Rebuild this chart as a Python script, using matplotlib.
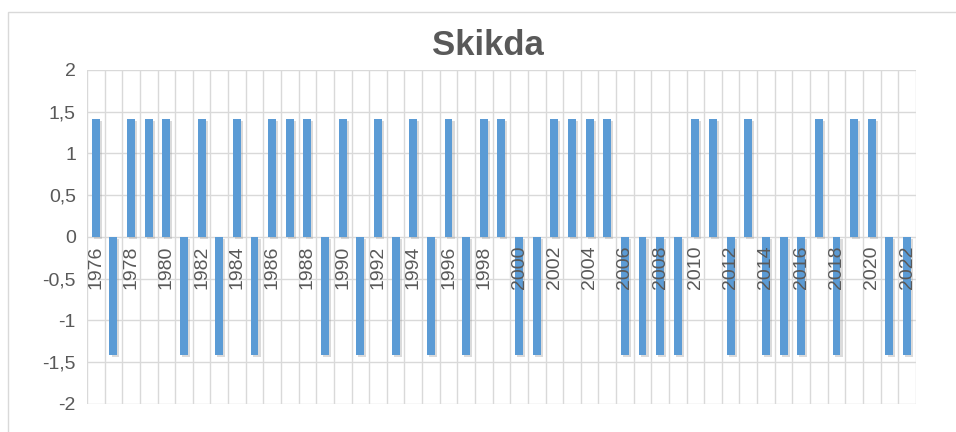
import matplotlib.pyplot as plt
import matplotlib.patheffects as pe
from matplotlib.patches import Rectangle

# Data
years = list(range(1976, 2023))
positive_years = [1976, 1978, 1979, 1980, 1982, 1984, 1986, 1987, 1988, 1990,
                  1992, 1994, 1996, 1998, 1999, 2002, 2003, 2004, 2005, 2010,
                  2011, 2013, 2017, 2019, 2020]
values = [1.41 if y in positive_years else -1.41 for y in years]
y_ticks = [-2, -1.5, -1, -0.5, 0, 0.5, 1, 1.5, 2]
y_tick_labels = ['-2', '-1,5', '-1', '-0,5', '0', '0,5', '1', '1,5', '2']

plt.rcParams['font.family'] = ['Liberation Sans', 'DejaVu Sans']
text_color = '#595959'
grid_color = '#D9D9D9'

fig = plt.figure(figsize=(9.56, 4.32), dpi=100)
ax = fig.add_axes([0.091, 0.065, 0.867, 0.773])

for s in ['top', 'right', 'left', 'bottom']:
    ax.spines[s].set_visible(False)

x = list(range(len(years)))
ax.bar(x, values, width=0.45, color='#5B9BD5', zorder=3,
       path_effects=[pe.SimplePatchShadow(offset=(1.5, -1.5), shadow_rgbFace='#999999', alpha=0.35),
                     pe.Normal()])

ax.set_xlim(-0.5, len(years) - 0.5)
ax.set_ylim(-2, 2)
ax.set_yticks(y_ticks)
ax.set_yticklabels(y_tick_labels, fontsize=14, color=text_color)

# vertical gridlines at category boundaries
ax.set_xticks([i - 0.5 for i in range(len(years) + 1)], minor=True)
ax.set_xticks([])
ax.grid(axis='x', which='minor', color=grid_color, lw=1, zorder=0)
ax.grid(axis='y', which='major', color=grid_color, lw=1, zorder=0)
ax.tick_params(axis='both', which='both', length=0)
ax.tick_params(axis='y', pad=8)

# category labels hang below the zero line, drawn over the bars
for i in x[::2]:
    ax.annotate(str(years[i]), (i, 0), xytext=(0, -6), textcoords='offset points',
                rotation=90, ha='center', va='top', fontsize=14,
                color=text_color, zorder=5)

fig.text(0.51, 0.895, 'Skikda', ha='center', va='center', fontsize=25,
         fontweight='bold', color=text_color)

# outer chart border
fig.patches.append(Rectangle((8 / 956, -0.05), 1.0, 1 - 12 / 432 + 0.05,
                             transform=fig.transFigure, fill=False,
                             edgecolor=grid_color, lw=1))

fig.savefig('out.png', dpi=100)
